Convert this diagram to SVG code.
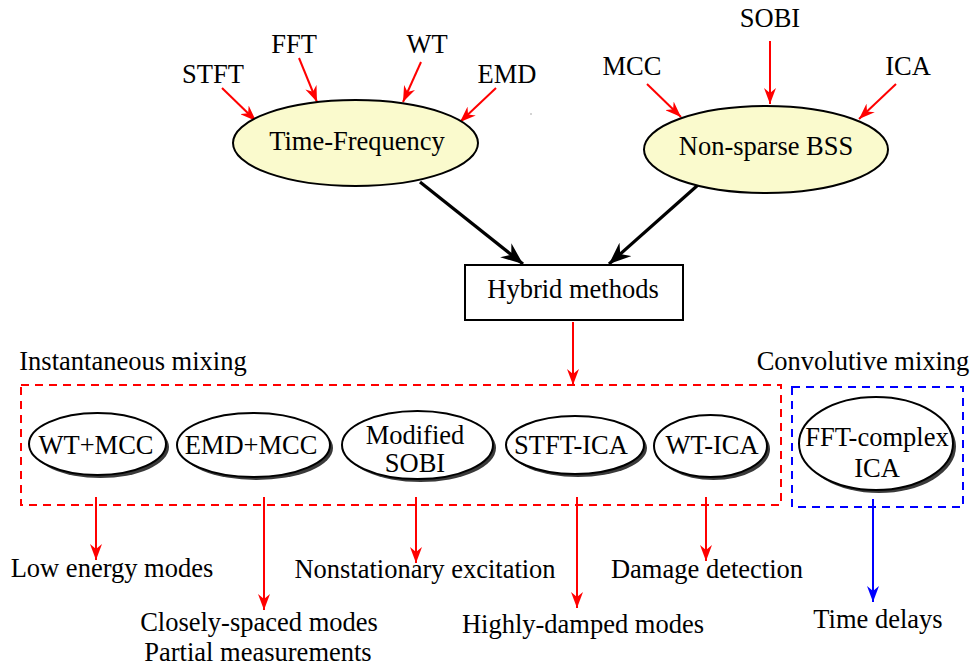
<svg xmlns="http://www.w3.org/2000/svg" width="973" height="667" viewBox="0 0 973 667">
<defs>
<style>
text{font-family:"Liberation Serif","Times New Roman",serif;font-size:26.5px;fill:#000;text-anchor:middle}
.tf{fill:#fafacd;stroke:#000;stroke-width:2}
.mth{fill:#fff;stroke:#000;stroke-width:2}
.sh{fill:#3a3a3a}
.red{stroke:#f00;stroke-width:2;fill:none;marker-end:url(#ar)}
.blk{stroke:#000;stroke-width:3.2;fill:none;marker-end:url(#ak)}
.blu{stroke:#00f;stroke-width:2;fill:none;marker-end:url(#ab)}
</style>
<marker id="ar" viewBox="0 0 16 12" refX="16" refY="6" markerWidth="16" markerHeight="12" orient="auto" markerUnits="userSpaceOnUse"><path d="M0,0 L16,6 L0,12 L5,6 z" fill="#f00"/></marker>
<marker id="ab" viewBox="0 0 16 12" refX="16" refY="6" markerWidth="16" markerHeight="12" orient="auto" markerUnits="userSpaceOnUse"><path d="M0,0 L16,6 L0,12 L5,6 z" fill="#00f"/></marker>
<marker id="ak" viewBox="0 0 22 18" refX="22" refY="9" markerWidth="22" markerHeight="18" orient="auto" markerUnits="userSpaceOnUse"><path d="M0,0 L22,9 L0,18 L7,9 z" fill="#000"/></marker>
</defs>
<rect width="973" height="667" fill="#fff"/>

<g id="connectors">
<line class="red" x1="222" y1="88" x2="256" y2="121"/>
<line class="red" x1="299" y1="58" x2="317" y2="102"/>
<line class="red" x1="421" y1="62" x2="403" y2="102"/>
<line class="red" x1="496" y1="88" x2="460" y2="122"/>
<line class="red" x1="647" y1="84" x2="681" y2="117"/>
<line class="red" x1="770" y1="41" x2="770" y2="104"/>
<line class="red" x1="896" y1="84" x2="859" y2="119"/>
<line class="blk" x1="420" y1="182" x2="523" y2="264"/>
<line class="blk" x1="698" y1="185" x2="609" y2="264"/>
<line class="red" x1="573" y1="322" x2="573" y2="385"/>
<line class="red" x1="96" y1="497" x2="96" y2="560"/>
<line class="red" x1="264" y1="497" x2="264" y2="610"/>
<line class="red" x1="416" y1="497" x2="416" y2="563"/>
<line class="red" x1="577" y1="497" x2="577" y2="608"/>
<line class="red" x1="706" y1="497" x2="706" y2="561"/>
<line class="blu" x1="873" y1="499" x2="873" y2="602"/>
</g>

<g id="src-stft"><text x="213" y="83">STFT</text></g>
<g id="src-fft"><text x="294" y="53">FFT</text></g>
<g id="src-wt"><text x="427" y="53">WT</text></g>
<g id="src-emd"><text x="507" y="83">EMD</text></g>
<g id="src-mcc"><text x="632" y="75">MCC</text></g>
<g id="src-sobi"><text x="770" y="27">SOBI</text></g>
<g id="src-ica"><text x="908" y="75">ICA</text></g>

<g id="time-frequency">
<ellipse class="tf" cx="355.5" cy="143" rx="122.5" ry="43"/>
<text x="357" y="150">Time-Frequency</text>
</g>
<g id="non-sparse-bss">
<ellipse class="tf" cx="766" cy="149.5" rx="122" ry="43.5"/>
<text x="766" y="155">Non-sparse BSS</text>
</g>
<rect x="530.5" y="113.5" width="1" height="1" fill="#555"/>

<g id="hybrid">
<rect x="465" y="265" width="218" height="55" fill="#fff" stroke="#000" stroke-width="2"/>
<text x="573" y="298">Hybrid methods</text>
</g>

<g id="instantaneous">
<rect x="21" y="385" width="760" height="120" fill="none" stroke="#f00" stroke-width="2" stroke-dasharray="8,6"/>
<text x="133" y="370">Instantaneous mixing</text>
</g>
<g id="convolutive">
<rect x="792" y="387" width="171" height="120" fill="none" stroke="#00f" stroke-width="2" stroke-dasharray="8,6"/>
<text x="863" y="370">Convolutive mixing</text>
</g>

<g id="wt-mcc">
<ellipse class="sh" cx="100.5" cy="447" rx="68.5" ry="31"/>
<ellipse class="mth" cx="97.5" cy="444" rx="68.5" ry="31"/>
<text x="96" y="454">WT+MCC</text>
</g>
<g id="emd-mcc">
<ellipse class="sh" cx="256.5" cy="448" rx="76.5" ry="32"/>
<ellipse class="mth" cx="253.5" cy="445" rx="76.5" ry="32"/>
<text x="251" y="454">EMD+MCC</text>
</g>
<g id="modified-sobi">
<ellipse class="sh" cx="420.5" cy="448" rx="75.5" ry="34"/>
<ellipse class="mth" cx="417.5" cy="445" rx="75.5" ry="34"/>
<text x="415" y="444">Modified</text>
<text x="415" y="472">SOBI</text>
</g>
<g id="stft-ica">
<ellipse class="sh" cx="578" cy="448" rx="69" ry="29"/>
<ellipse class="mth" cx="575" cy="445" rx="69" ry="29"/>
<text x="571" y="454">STFT-ICA</text>
</g>
<g id="wt-ica">
<ellipse class="sh" cx="713.5" cy="449" rx="56.5" ry="31"/>
<ellipse class="mth" cx="710.5" cy="446" rx="56.5" ry="31"/>
<text x="712" y="454">WT-ICA</text>
</g>
<g id="fft-complex-ica">
<ellipse class="sh" cx="879" cy="446.5" rx="77" ry="46.5"/>
<ellipse class="mth" cx="876" cy="443.5" rx="77" ry="46.5"/>
<text x="877" y="446">FFT-complex</text>
<text x="877" y="477">ICA</text>
</g>

<g id="out-low-energy"><text x="112" y="577">Low energy modes</text></g>
<g id="out-closely"><text x="259" y="631">Closely-spaced modes</text><text x="258" y="661">Partial measurements</text></g>
<g id="out-nonstationary"><text x="425" y="578">Nonstationary excitation</text></g>
<g id="out-highly"><text x="583" y="633">Highly-damped modes</text></g>
<g id="out-damage"><text x="707" y="578">Damage detection</text></g>
<g id="out-time-delays"><text x="878" y="628">Time delays</text></g>
</svg>
